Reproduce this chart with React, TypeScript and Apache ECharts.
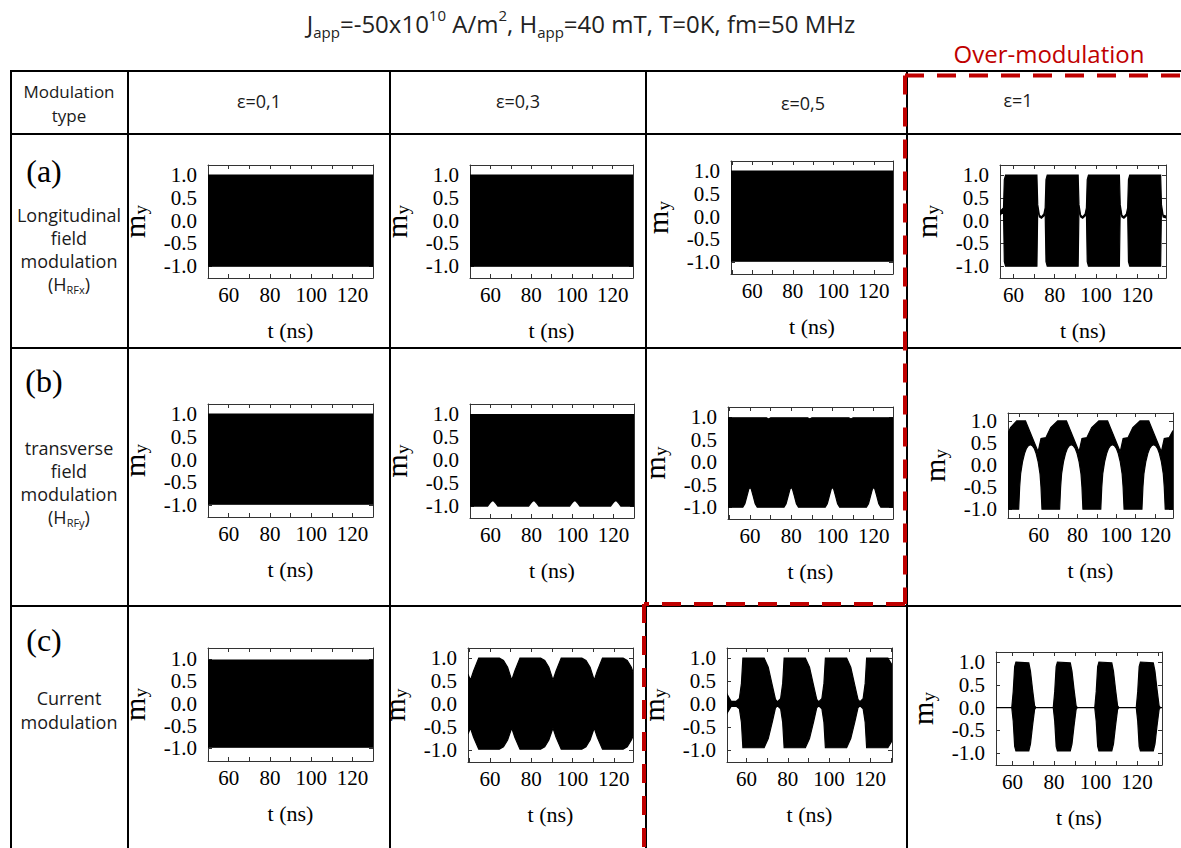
import React, { useEffect, useRef } from 'react';
import * as echarts from 'echarts';

// ---------------- data ----------------
const X_LABELS = [60, 80, 100, 120];
const X_TICKS = [40, 50, 60, 70, 80, 90, 100, 110, 120, 130];
const Y_LABELS = [-1, -0.5, 0, 0.5, 1];

// (a) longitudinal field modulation
const A1_T = [50, 130];
const A1_UP = [1.0, 1.0];
const A1_LO = [-1.0, -1.0];

const A2_T = [50, 130];
const A2_UP = [1.0, 1.0];
const A2_LO = [-1.0, -1.0];

const A3_T = [49.5, 129.5];
const A3_UP = [1.0, 1.0];
const A3_LO = [-0.98, -0.98];

const A4_T = [53.5, 55.2, 55.6, 56.2, 71.4, 71.8, 72.6, 73.6, 74.8, 75.4, 75.8, 76.4, 91.4, 91.8, 92.6, 93.6, 94.8, 95.4, 95.8, 96.4, 111.4, 111.8, 112.6, 113.6, 114.8, 115.4, 115.8, 116.4, 131.4, 131.8, 132.6, 134];
const A4_UP = [0.2, 0.28, 0.9, 1.0, 1.0, 0.35, 0.12, 0.08, 0.15, 0.28, 0.9, 1.0, 1.0, 0.35, 0.12, 0.08, 0.15, 0.28, 0.9, 1.0, 1.0, 0.35, 0.12, 0.08, 0.15, 0.28, 0.9, 1.0, 1.0, 0.35, 0.12, 0.1];
const A4_LO = [0.12, 0.2, -0.9, -1.0, -1.0, 0.28, 0.08, 0.05, 0.1, 0.2, -0.9, -1.0, -1.0, 0.28, 0.08, 0.05, 0.1, 0.2, -0.9, -1.0, -1.0, 0.28, 0.08, 0.05, 0.1, 0.2, -0.9, -1.0, -1.0, 0.28, 0.08, 0.06];

// (b) transverse field modulation
const B1_T = [50, 130];
const B1_UP = [1.0, 1.0];
const B1_LO = [-0.98, -0.98];

const B2_T_UP = [50, 130];
const B2_UP = [0.99, 0.99];
const B2_T_LO = [50, 58.6, 59.6, 60.6, 61.6, 62.6, 63.6, 78.6, 79.6, 80.6, 81.6, 82.6, 83.6, 98.6, 99.6, 100.6, 101.6, 102.6, 103.6, 118.6, 119.6, 120.6, 121.6, 122.6, 123.6, 130];
const B2_LO = [-1, -1, -0.94, -0.89, -0.89, -0.94, -1, -1, -0.94, -0.89, -0.89, -0.94, -1, -1, -0.94, -0.89, -0.89, -0.94, -1, -1, -0.94, -0.89, -0.89, -0.94, -1, -1];

const B3_T_UP = [49.3, 68, 69, 70, 88, 89, 90, 108, 109, 110, 129.4];
const B3_UP = [0.98, 0.98, 0.955, 0.98, 0.98, 0.955, 0.98, 0.98, 0.955, 0.98, 0.98];
const B3_T_LO = [49.3, 56.5, 57.5, 58.5, 59.4, 60, 60.6, 61.5, 62.5, 63.5, 76.5, 77.5, 78.5, 79.4, 80, 80.6, 81.5, 82.5, 83.5, 96.5, 97.5, 98.5, 99.4, 100, 100.6, 101.5, 102.5, 103.5, 116.5, 117.5, 118.5, 119.4, 120, 120.6, 121.5, 122.5, 123.5, 129.4];
const B3_LO = [-1, -1, -0.92, -0.75, -0.6, -0.56, -0.6, -0.75, -0.92, -1, -1, -0.92, -0.75, -0.6, -0.56, -0.6, -0.75, -0.92, -1, -1, -0.92, -0.75, -0.6, -0.56, -0.6, -0.75, -0.92, -1, -1, -0.92, -0.75, -0.6, -0.56, -0.6, -0.75, -0.92, -1, -1];

const B4_T_UP = [44.2, 45.5, 48.7, 53.2, 59.7, 61.2, 63.7, 66.2, 69.8, 74.3, 80.8, 82.3, 84.8, 87.3, 91, 95.5, 102, 103.5, 106, 108.5, 112.2, 116.7, 123.2, 124.7, 127.2, 129.2];
const B4_UP = [0.72, 0.85, 1.0, 1.0, 0.3, 0.6, 0.62, 0.85, 1.0, 1.0, 0.3, 0.6, 0.62, 0.85, 1.0, 1.0, 0.3, 0.6, 0.62, 0.85, 1.0, 1.0, 0.3, 0.6, 0.62, 0.78];
const B4_T_LO = [44.2,
  49.7, 50.2, 50.7, 51.7, 52.7, 53.7, 54.7, 55.7, 56.7, 57.7, 58.7, 59.7, 60.7, 61.2, 61.7,
  70.8, 71.3, 71.8, 72.8, 73.8, 74.8, 75.8, 76.8, 77.8, 78.8, 79.8, 80.8, 81.8, 82.3, 82.8,
  92, 92.5, 93, 94, 95, 96, 97, 98, 99, 100, 101, 102, 103, 103.5, 104,
  113.2, 113.7, 114.2, 115.2, 116.2, 117.2, 118.2, 119.2, 120.2, 121.2, 122.2, 123.2, 124.2, 124.7, 125.2,
  129.2];
const B4_LO = [-1,
  -1, -0.5, -0.2, 0.08, 0.26, 0.38, 0.44, 0.46, 0.44, 0.38, 0.26, 0.08, -0.2, -0.5, -1,
  -1, -0.5, -0.2, 0.08, 0.26, 0.38, 0.44, 0.46, 0.44, 0.38, 0.26, 0.08, -0.2, -0.5, -1,
  -1, -0.5, -0.2, 0.08, 0.26, 0.38, 0.44, 0.46, 0.44, 0.38, 0.26, 0.08, -0.2, -0.5, -1,
  -1, -0.5, -0.2, 0.08, 0.26, 0.38, 0.44, 0.46, 0.44, 0.38, 0.26, 0.08, -0.2, -0.5, -1,
  -1];

// (c) current modulation
const C1_T = [50, 130];
const C1_UP = [0.98, 0.98];
const C1_LO = [-0.97, -0.97];

const C2_T = [49.3, 50.5, 52, 54.5, 64.5, 66.5, 68.5, 70.5, 72, 74.5, 84.5, 86.5, 88.5, 90.5, 92, 94.5, 104.5, 106.5, 108.5, 110.5, 112, 114.5, 124.5, 126.5, 128.5, 129.3];
const C2_UP = [0.65, 0.52, 0.72, 1.0, 1.0, 0.95, 0.8, 0.52, 0.72, 1.0, 1.0, 0.95, 0.8, 0.52, 0.72, 1.0, 1.0, 0.95, 0.8, 0.52, 0.72, 1.0, 1.0, 0.95, 0.8, 0.7];
const C2_LO = [-0.65, -0.52, -0.72, -0.98, -0.98, -0.93, -0.78, -0.52, -0.72, -0.98, -0.98, -0.93, -0.78, -0.52, -0.72, -0.98, -0.98, -0.93, -0.78, -0.52, -0.72, -0.98, -0.98, -0.93, -0.78, -0.7];

const C3_T = [50.5, 52.5, 55, 56.5, 57.5, 58.2, 68.5, 70.5, 72.5, 74, 75, 76.5, 77.5, 78.2, 88.5, 90.5, 92.5, 94, 95, 96.5, 97.5, 98.2, 108.5, 110.5, 112.5, 114, 115, 116.5, 117.5, 118.2, 128.5, 130.5];
const C3_UP = [0.22, 0.06, 0.06, 0.12, 0.45, 1.0, 1.0, 0.8, 0.4, 0.1, 0.05, 0.12, 0.45, 1.0, 1.0, 0.8, 0.4, 0.1, 0.05, 0.12, 0.45, 1.0, 1.0, 0.8, 0.4, 0.1, 0.05, 0.12, 0.45, 1.0, 1.0, 0.85];
const C3_LO = [-0.2, -0.05, -0.05, -0.1, -0.4, -0.95, -0.95, -0.75, -0.38, -0.08, -0.04, -0.1, -0.4, -0.95, -0.95, -0.75, -0.38, -0.08, -0.04, -0.1, -0.4, -0.95, -0.95, -0.75, -0.38, -0.08, -0.04, -0.1, -0.4, -0.95, -0.95, -0.8];

const C4_T = [52, 59.6, 60.3, 61, 61.6, 67.8, 68.6, 69.6, 70.6, 71.2, 79.6, 80.3, 81, 81.6, 87.8, 88.6, 89.6, 90.6, 91.2, 99.6, 100.3, 101, 101.6, 107.8, 108.6, 109.6, 110.6, 111.2, 119.6, 120.3, 121, 121.6, 127.8, 128.6, 129.6, 130.6, 131.2, 132];
const C4_UP = [0, 0, 0.35, 0.9, 1.0, 0.98, 0.8, 0.4, 0.04, 0, 0, 0.35, 0.9, 1.0, 0.98, 0.8, 0.4, 0.04, 0, 0, 0.35, 0.9, 1.0, 0.98, 0.8, 0.4, 0.04, 0, 0, 0.35, 0.9, 1.0, 0.98, 0.8, 0.4, 0.04, 0, 0];
const C4_LO = [0, 0, -0.3, -0.85, -0.95, -0.95, -0.8, -0.4, -0.04, 0, 0, -0.3, -0.85, -0.95, -0.95, -0.8, -0.4, -0.04, 0, 0, -0.3, -0.85, -0.95, -0.95, -0.8, -0.4, -0.04, 0, 0, -0.3, -0.85, -0.95, -0.95, -0.8, -0.4, -0.04, 0, 0];

// ---------------- layout ----------------
type Panel = {
  left: number; top: number; width: number; height: number;
  xMin: number; xMax: number; yMin: number; yMax: number;
  tUp: number[]; up: number[]; tLo: number[]; lo: number[];
};

const PANELS: Panel[] = [
  { left: 208, top: 165, width: 165, height: 113, xMin: 50, xMax: 130, yMin: -1.26, yMax: 1.22, tUp: A1_T, up: A1_UP, tLo: A1_T, lo: A1_LO },
  { left: 470, top: 165, width: 163, height: 113, xMin: 50, xMax: 130, yMin: -1.26, yMax: 1.22, tUp: A2_T, up: A2_UP, tLo: A2_T, lo: A2_LO },
  { left: 731, top: 161, width: 162, height: 113, xMin: 49.5, xMax: 129.5, yMin: -1.26, yMax: 1.22, tUp: A3_T, up: A3_UP, tLo: A3_T, lo: A3_LO },
  { left: 1000, top: 165, width: 166, height: 113, xMin: 53.5, xMax: 134, yMin: -1.26, yMax: 1.22, tUp: A4_T, up: A4_UP, tLo: A4_T, lo: A4_LO },
  { left: 208, top: 404, width: 165, height: 113, xMin: 50, xMax: 130, yMin: -1.26, yMax: 1.22, tUp: B1_T, up: B1_UP, tLo: B1_T, lo: B1_LO },
  { left: 470, top: 404, width: 164, height: 114, xMin: 50, xMax: 130, yMin: -1.26, yMax: 1.22, tUp: B2_T_UP, up: B2_UP, tLo: B2_T_LO, lo: B2_LO },
  { left: 728, top: 407, width: 165, height: 112, xMin: 49.3, xMax: 129.4, yMin: -1.26, yMax: 1.22, tUp: B3_T_UP, up: B3_UP, tLo: B3_T_LO, lo: B3_LO },
  { left: 1008, top: 413, width: 165, height: 105, xMin: 44.2, xMax: 129.2, yMin: -1.2, yMax: 1.18, tUp: B4_T_UP, up: B4_UP, tLo: B4_T_LO, lo: B4_LO },
  { left: 208, top: 648, width: 165, height: 113, xMin: 50, xMax: 130, yMin: -1.28, yMax: 1.25, tUp: C1_T, up: C1_UP, tLo: C1_T, lo: C1_LO },
  { left: 468, top: 648, width: 165, height: 114, xMin: 49.3, xMax: 129.3, yMin: -1.26, yMax: 1.22, tUp: C2_T, up: C2_UP, tLo: C2_T, lo: C2_LO },
  { left: 727, top: 648, width: 165, height: 114, xMin: 50.5, xMax: 130.5, yMin: -1.26, yMax: 1.22, tUp: C3_T, up: C3_UP, tLo: C3_T, lo: C3_LO },
  { left: 996, top: 652, width: 166, height: 113, xMin: 52, xMax: 132, yMin: -1.26, yMax: 1.22, tUp: C4_T, up: C4_UP, tLo: C4_T, lo: C4_LO },
];

const SERIF = 'Liberation Serif';
const SANS = 'Open Sans';
const AX_COLOR = '#333';
const RED = '#c00000';

function buildOption(): any {
  const grid: any[] = [];
  const xAxis: any[] = [];
  const yAxis: any[] = [];
  const series: any[] = [];
  const axisLine = { show: true, onZero: false, lineStyle: { color: AX_COLOR, width: 1 } };
  PANELS.forEach((p, i) => {
    grid.push({ left: p.left, top: p.top, width: p.width, height: p.height, containLabel: false, outerBoundsMode: 'none' });
    const ticks = X_TICKS.filter((v) => v >= p.xMin && v <= p.xMax);
    const xTick = { show: true, inside: true, length: 4, customValues: ticks, lineStyle: { color: AX_COLOR, width: 1 } };
    const yTick = { show: true, inside: true, length: 4, customValues: Y_LABELS, lineStyle: { color: AX_COLOR, width: 1 } };
    const labelStyle = { color: '#000', fontFamily: SERIF, fontSize: 21 };
    xAxis.push({
      gridIndex: i, type: 'value', position: 'bottom', min: p.xMin, max: p.xMax,
      axisLine, axisTick: xTick, splitLine: { show: false },
      axisLabel: { customValues: X_LABELS, margin: 6, ...labelStyle },
      name: 't (ns)', nameLocation: 'middle', nameGap: 41, nameMoveOverlap: false,
      nameTextStyle: { color: '#000', fontFamily: SERIF, fontSize: 22 },
    });
    xAxis.push({
      gridIndex: i, type: 'value', position: 'top', min: p.xMin, max: p.xMax,
      axisLine, axisTick: xTick, splitLine: { show: false }, axisLabel: { show: false },
    });
    yAxis.push({
      gridIndex: i, type: 'value', position: 'left', min: p.yMin, max: p.yMax,
      axisLine, axisTick: yTick, splitLine: { show: false },
      axisLabel: { customValues: Y_LABELS, margin: 11, formatter: (v: number) => v.toFixed(1), ...labelStyle },
      name: '{m|m}{s|y}', nameLocation: 'middle', nameGap: 58, nameRotate: 90, nameMoveOverlap: false,
      nameTextStyle: {
        color: '#000', fontFamily: SERIF,
        rich: {
          m: { fontSize: 30, fontFamily: SERIF, color: '#000', lineHeight: 32 },
          s: { fontSize: 19, fontFamily: SERIF, color: '#000', lineHeight: 17, verticalAlign: 'bottom' },
        },
      },
    });
    yAxis.push({
      gridIndex: i, type: 'value', position: 'right', min: p.yMin, max: p.yMax,
      axisLine, axisTick: yTick, splitLine: { show: false }, axisLabel: { show: false },
    });
    const pts = [
      ...p.tUp.map((t, k) => [t, p.up[k]]),
      ...p.tLo.map((t, k) => [t, p.lo[k]]),
    ];
    series.push({
      type: 'custom', coordinateSystem: 'cartesian2d', xAxisIndex: 2 * i, yAxisIndex: 2 * i,
      clip: true, silent: true, data: pts, encode: { x: 0, y: 1 },
      renderItem: (params: any, api: any) => {
        if (params.dataIndex !== 0) return null;
        const poly: number[][] = [];
        for (let k = 0; k < p.tUp.length; k++) poly.push(api.coord([p.tUp[k], p.up[k]]));
        for (let k = p.tLo.length - 1; k >= 0; k--) poly.push(api.coord([p.tLo[k], p.lo[k]]));
        return { type: 'polygon', shape: { points: poly }, style: { fill: '#000', stroke: '#000', lineWidth: 1.2 } };
      },
    });
  });

  const line = (x1: number, y1: number, x2: number, y2: number) => ({
    type: 'line', shape: { x1, y1, x2, y2 }, style: { stroke: '#000', lineWidth: 2 }, z: 10, silent: true,
  });
  const dash = (x1: number, y1: number, x2: number, y2: number) => ({
    type: 'line', shape: { x1, y1, x2, y2 }, style: { stroke: RED, lineWidth: 4, lineDash: [19, 13] }, z: 20, silent: true,
  });
  const txt = (text: string, x: number, y: number, extra: any = {}) => ({
    type: 'text', z: 30, silent: true,
    style: {
      text, x, y, textAlign: 'center', textVerticalAlign: 'middle',
      fontFamily: SANS, fontSize: 17, fill: '#1a1a1a', ...extra,
    },
  });
  const subRich = {
    s: { fontSize: 11, fontFamily: SANS, fill: '#1a1a1a', lineHeight: 12, verticalAlign: 'bottom' },
  };

  const graphic: any[] = [
    // table lines
    line(10, 71, 1181, 71),
    line(10, 134, 1181, 134),
    line(10, 348, 1181, 348),
    line(10, 606, 1181, 606),
    line(11, 70, 11, 848),
    line(128, 70, 128, 848),
    line(390, 70, 390, 848),
    line(646, 70, 646, 848),
    line(907, 70, 907, 848),
    // over-modulation frame
    dash(905, 75.5, 1181, 75.5),
    dash(905, 75.5, 905, 604),
    dash(905, 604, 644, 604),
    dash(644, 604, 644, 848),
    // title
    txt('J{b|app}=-50x10{p|10} A/m{p|2}, H{b|app}=40 mT, T=0K, fm=50 MHz', 581, 23, {
      fontSize: 24, lineHeight: 32, fill: '#222',
      rich: {
        b: { fontSize: 15, fontFamily: SANS, fill: '#222', lineHeight: 17, verticalAlign: 'bottom' },
        p: { fontSize: 15, fontFamily: SANS, fill: '#222', lineHeight: 17, verticalAlign: 'top' },
      },
    }),
    txt('Over-modulation', 1049, 53, { fontSize: 24, fill: RED }),
    // header
    txt('Modulation\ntype', 69, 103, { lineHeight: 24 }),
    txt('ε=0,1', 259, 101, { fontSize: 18 }),
    txt('ε=0,3', 518, 101, { fontSize: 18 }),
    txt('ε=0,5', 803, 103, { fontSize: 18 }),
    txt('ε=1', 1018, 100, { fontSize: 18 }),
    // row labels
    txt('(a)', 44, 171, { fontFamily: SERIF, fontSize: 32, fill: '#000' }),
    txt('Longitudinal\nfield\nmodulation\n(H{s|RFx})', 69, 249, { fontSize: 18, lineHeight: 23, rich: subRich }),
    txt('(b)', 44, 381, { fontFamily: SERIF, fontSize: 32, fill: '#000' }),
    txt('transverse\nfield\nmodulation\n(H{s|RFy})', 69, 482, { fontSize: 18, lineHeight: 23, rich: subRich }),
    txt('(c)', 44, 640, { fontFamily: SERIF, fontSize: 32, fill: '#000' }),
    txt('Current\nmodulation', 69, 710, { fontSize: 18, lineHeight: 24 }),
  ];

  return { animation: false, backgroundColor: '#fff', grid, xAxis, yAxis, series, graphic };
}

export default function App() {
  const ref = useRef<HTMLDivElement>(null);
  useEffect(() => {
    document.body.style.margin = '0';
    const chart = echarts.init(ref.current as HTMLDivElement, null, { renderer: 'svg' });
    chart.setOption(buildOption());
    return () => chart.dispose();
  }, []);
  return <div ref={ref} style={{ width: 1181, height: 848, background: '#fff' }} />;
}
